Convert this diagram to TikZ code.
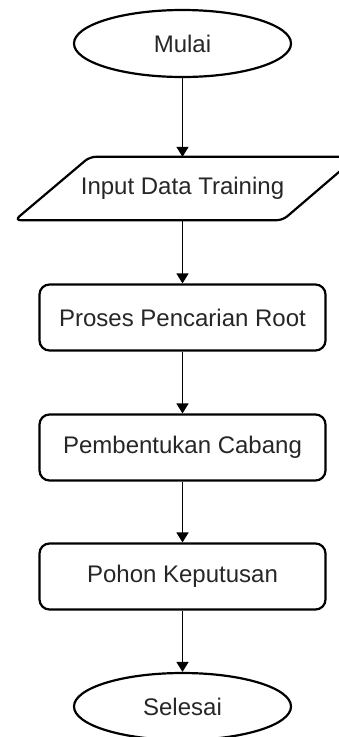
\documentclass[tikz,border=0pt]{standalone}
\usepackage{fontspec}
\setmainfont{Liberation Sans}
\usetikzlibrary{shapes.geometric,arrows.meta}
\begin{document}
\begin{tikzpicture}[x=1pt,y=-1pt,
  txt/.style={font=\fontsize{24}{28}\selectfont,text=black!85},
  terminal/.style={ellipse,draw,line width=2.2pt,minimum width=217pt,minimum height=67pt,inner sep=0pt,txt},
  process/.style={draw,rounded corners=10pt,line width=2.2pt,minimum width=286pt,minimum height=66pt,inner sep=0pt,txt},
  flow/.style={line width=1.6pt,-{Triangle[width=12pt,length=10pt]}}]
\useasboundingbox (0,0) rectangle (339,737);
\clip (0,0) rectangle (339,737);

% flowchart nodes
\node[terminal] (mulai) at (182.5,43.5) {Mulai};
\node[txt,minimum width=268pt,minimum height=63pt,inner sep=0pt] (input) at (182.5,188.5) {Input Data Training};
\draw[line width=2.2pt,rounded corners=6pt]
  ([xshift=-33.5pt]input.south west) -- ([xshift=41.5pt]input.north west)
  -- ([xshift=40pt]input.north east) -- ([xshift=-34pt]input.south east) -- cycle;
\node[process] (root) at (182.5,317.5) {Proses Pencarian Root};
\node[process] (cabang) at (182.5,447.5) {Pembentukan Cabang};
\node[process] (pohon) at (182.5,576.5) {Pohon Keputusan};
\node[terminal] (selesai) at (182.5,706.5) {Selesai};

% connectors
\draw[flow] (mulai.south) -- (input.north);
\draw[flow] (input.south) -- (root.north);
\draw[flow] (root.south) -- (cabang.north);
\draw[flow] (cabang.south) -- (pohon.north);
\draw[flow] (pohon.south) -- (selesai.north);
\end{tikzpicture}
\end{document}
